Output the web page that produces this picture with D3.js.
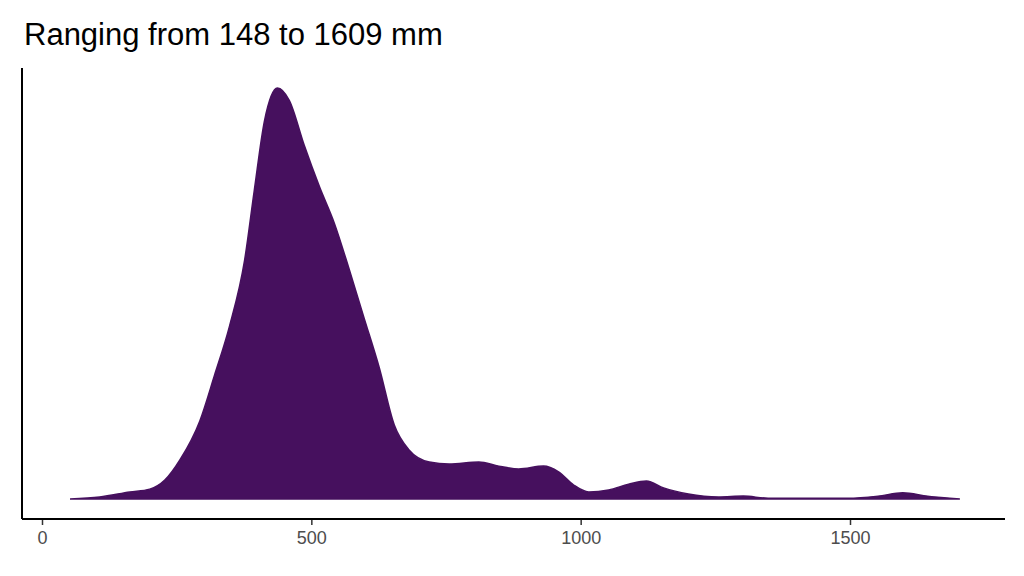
<!DOCTYPE html>
<html><head><meta charset="utf-8">
<script src="https://cdn.jsdelivr.net/npm/d3@7"></script>
<style>body{margin:0;background:#fff;font-family:"Liberation Sans",Arial,sans-serif;}</style>
</head><body><div id="vis"></div>
<script>
const TITLE = "Ranging from 148 to 1609 mm";
const rain = [52,107,163,200,228,256,293,320,348,376,394,413,437,459,487,515,543,570,598,626,654,681,719,756,811,848,885,931,959,987,1015,1052,1089,1122,1154,1200,1256,1302,1348,1496,1552,1598,1644,1704];
const density = [0,.005,.017,.024,.046,.095,.19,.30,.42,.58,.75,.92,1.0,.97,.86,.76,.67,.56,.44,.32,.18,.12,.09,.085,.09,.08,.073,.08,.066,.034,.017,.022,.036,.044,.027,.012,.005,.007,.002,.002,.007,.015,.007,0];
const xTicks = [0,500,1000,1500];

const svg = d3.select("#vis").append("svg").attr("width",1024).attr("height",576);
const X = d3.scaleLinear().domain([0,1500]).range([42,850]);
const Y = d3.scaleLinear().domain([0,1]).range([499,88]);

svg.append("text").attr("x",24).attr("y",45).attr("font-size",31).attr("fill","#000").text(TITLE);

const pts = rain.map((r,i)=>[r,density[i]]);
svg.append("path").datum(pts)
  .attr("d", d3.area().x(d=>X(d[0])).y0(Y(0)).y1(d=>Y(d[1])).curve(d3.curveMonotoneX))
  .attr("fill","#46105e").attr("stroke","#46105e").attr("stroke-width",1.5);

// axes
svg.append("g").attr("transform","translate(0,519)")
  .call(d3.axisBottom(X).tickValues(xTicks).tickSize(6).tickPadding(6).tickFormat(d3.format("d")))
  .call(g=>g.select(".domain").remove())
  .call(g=>g.selectAll("line").attr("stroke","#333").attr("stroke-width",1.5))
  .call(g=>g.selectAll("text").attr("font-size",18).attr("fill","#4d4d4d").attr("font-family","Liberation Sans, Arial"));
svg.append("line").attr("x1",22).attr("x2",1005).attr("y1",519).attr("y2",519).attr("stroke","#000").attr("stroke-width",2);
svg.append("line").attr("x1",22).attr("x2",22).attr("y1",68).attr("y2",519).attr("stroke","#000").attr("stroke-width",2);
</script></body></html>
